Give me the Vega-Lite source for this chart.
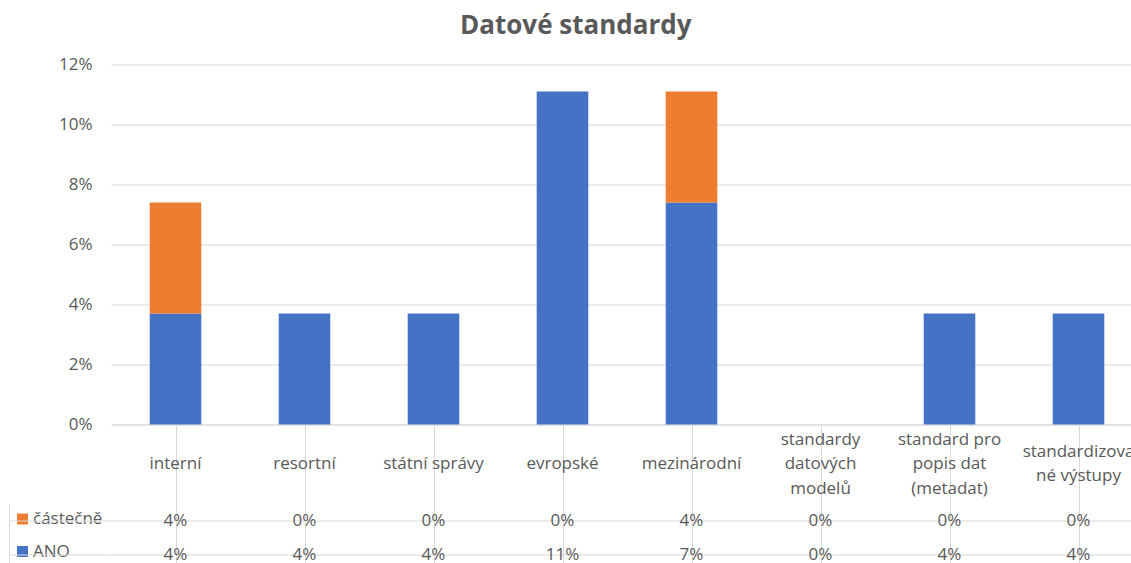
{
  "$schema": "https://vega.github.io/schema/vega-lite/v6.json",
  "background": "white",
  "padding": {"left": 8, "top": 12.5, "right": -11, "bottom": -8.5},
  "title": {"text": "Datové standardy", "fontSize": 26, "fontWeight": "bold", "color": "#595959", "anchor": "middle", "frame": "bounds", "offset": 17},
  "datasets": {
    "vals": [
      {"cat": "interní", "series": "ANO", "value": 0.037},
      {"cat": "interní", "series": "částečně", "value": 0.037},
      {"cat": "resortní", "series": "ANO", "value": 0.037},
      {"cat": "resortní", "series": "částečně", "value": 0},
      {"cat": "státní správy", "series": "ANO", "value": 0.037},
      {"cat": "státní správy", "series": "částečně", "value": 0},
      {"cat": "evropské", "series": "ANO", "value": 0.111},
      {"cat": "evropské", "series": "částečně", "value": 0},
      {"cat": "mezinárodní", "series": "ANO", "value": 0.074},
      {"cat": "mezinárodní", "series": "částečně", "value": 0.037},
      {"cat": "standardy datových modelů", "series": "ANO", "value": 0},
      {"cat": "standardy datových modelů", "series": "částečně", "value": 0},
      {"cat": "standard pro popis dat (metadat)", "series": "ANO", "value": 0.037},
      {"cat": "standard pro popis dat (metadat)", "series": "částečně", "value": 0},
      {"cat": "standardizované výstupy", "series": "ANO", "value": 0.037},
      {"cat": "standardizované výstupy", "series": "částečně", "value": 0}
    ],
    "cats": [
      {"cat": "interní", "l1": "interní"},
      {"cat": "resortní", "l1": "resortní"},
      {"cat": "státní správy", "l1": "státní správy"},
      {"cat": "evropské", "l1": "evropské"},
      {"cat": "mezinárodní", "l1": "mezinárodní"},
      {"cat": "standardy datových modelů", "l3": "standardy\ndatových\nmodelů"},
      {"cat": "standard pro popis dat (metadat)", "l3": "standard pro\npopis dat\n(metadat)"},
      {"cat": "standardizované výstupy", "l2": "standardizova\nné výstupy"}
    ]
  },
  "spacing": 0,
  "bounds": "flush",
  "resolve": {"legend": {"color": "independent"}},
  "vconcat": [
    {
      "width": 1032,
      "height": 360,
      "data": {"name": "vals"},
      "mark": {"type": "bar"},
      "encoding": {
        "x": {"field": "cat", "type": "nominal",
              "sort": ["interní", "resortní", "státní správy", "evropské", "mezinárodní", "standardy datových modelů", "standard pro popis dat (metadat)", "standardizované výstupy"],
              "scale": {"paddingInner": 0.6, "paddingOuter": 0.3},
              "axis": {"title": null, "labels": false, "ticks": false, "domain": true, "domainColor": "#d9d9d9", "grid": false}},
        "y": {"field": "value", "type": "quantitative", "stack": "zero",
              "scale": {"domain": [0, 0.12], "nice": false},
              "axis": {"title": null, "values": [0, 0.02, 0.04, 0.06, 0.08, 0.1, 0.12], "format": ".0%", "domain": false, "ticks": false, "grid": true, "gridColor": "#d9d9d9", "labelPadding": 19, "labelFontSize": 17, "labelColor": "#595959"}},
        "color": {"field": "series", "type": "nominal",
                  "scale": {"domain": ["částečně", "ANO"], "range": ["#ED7D31", "#4472C4"]},
                  "legend": {"orient": "none", "legendX": -97, "legendY": 446, "title": null, "symbolType": "square", "symbolSize": 121, "symbolStrokeWidth": 0, "labelFontSize": 17, "labelColor": "#595959", "labelOffset": 2, "rowPadding": 14.5, "direction": "vertical"}},
        "order": {"field": "series", "type": "nominal", "sort": "ascending"}
      }
    },
    {
      "width": 1032,
      "height": 79,
      "data": {"name": "cats"},
      "encoding": {
        "x": {"field": "cat", "type": "nominal",
              "sort": ["interní", "resortní", "státní správy", "evropské", "mezinárodní", "standardy datových modelů", "standard pro popis dat (metadat)", "standardizované výstupy"],
              "scale": {"paddingInner": 0, "paddingOuter": 0},
              "axis": {"orient": "top", "title": null, "labels": false, "ticks": false, "domain": false, "grid": true, "gridColor": "#d9d9d9", "bandPosition": 0}}
      },
      "layer": [
        {
          "transform": [{"filter": "isValid(datum.l1)"}],
          "mark": {"type": "text", "fontSize": 17, "color": "#595959", "baseline": "middle"},
          "encoding": {"text": {"field": "l1"}}
        },
        {
          "transform": [{"filter": "isValid(datum.l2)"}],
          "mark": {"type": "text", "lineBreak": "\n", "fontSize": 17, "color": "#595959", "lineHeight": 24.5, "baseline": "middle", "dy": -12.25},
          "encoding": {"text": {"field": "l2"}}
        },
        {
          "transform": [{"filter": "isValid(datum.l3)"}],
          "mark": {"type": "text", "lineBreak": "\n", "fontSize": 17, "color": "#595959", "lineHeight": 24.5, "baseline": "middle", "dy": -24.5},
          "encoding": {"text": {"field": "l3"}}
        }
      ]
    },
    {
      "width": 1032,
      "height": 68,
      "data": {"name": "vals"},
      "mark": {"type": "text", "fontSize": 17, "color": "#595959"},
      "encoding": {
        "x": {"field": "cat", "type": "nominal",
              "sort": ["interní", "resortní", "státní správy", "evropské", "mezinárodní", "standardy datových modelů", "standard pro popis dat (metadat)", "standardizované výstupy"],
              "scale": {"paddingInner": 0, "paddingOuter": 0},
              "axis": {"orient": "top", "title": null, "labels": false, "ticks": false, "domain": false, "grid": true, "gridColor": "#d9d9d9", "bandPosition": 0}},
        "y": {"field": "series", "type": "nominal", "sort": ["částečně", "ANO"],
              "scale": {"paddingInner": 0, "paddingOuter": 0},
              "axis": {"title": null, "labels": false, "ticks": true, "tickSize": -102, "tickColor": "#d9d9d9", "offset": 102, "domain": true, "domainColor": "#d9d9d9", "grid": true, "gridColor": "#d9d9d9", "bandPosition": 0}},
        "text": {"field": "value", "type": "quantitative", "format": ".0%"}
      }
    }
  ],
  "config": {
    "font": "Open Sans",
    "view": {"stroke": null}
  }
}
